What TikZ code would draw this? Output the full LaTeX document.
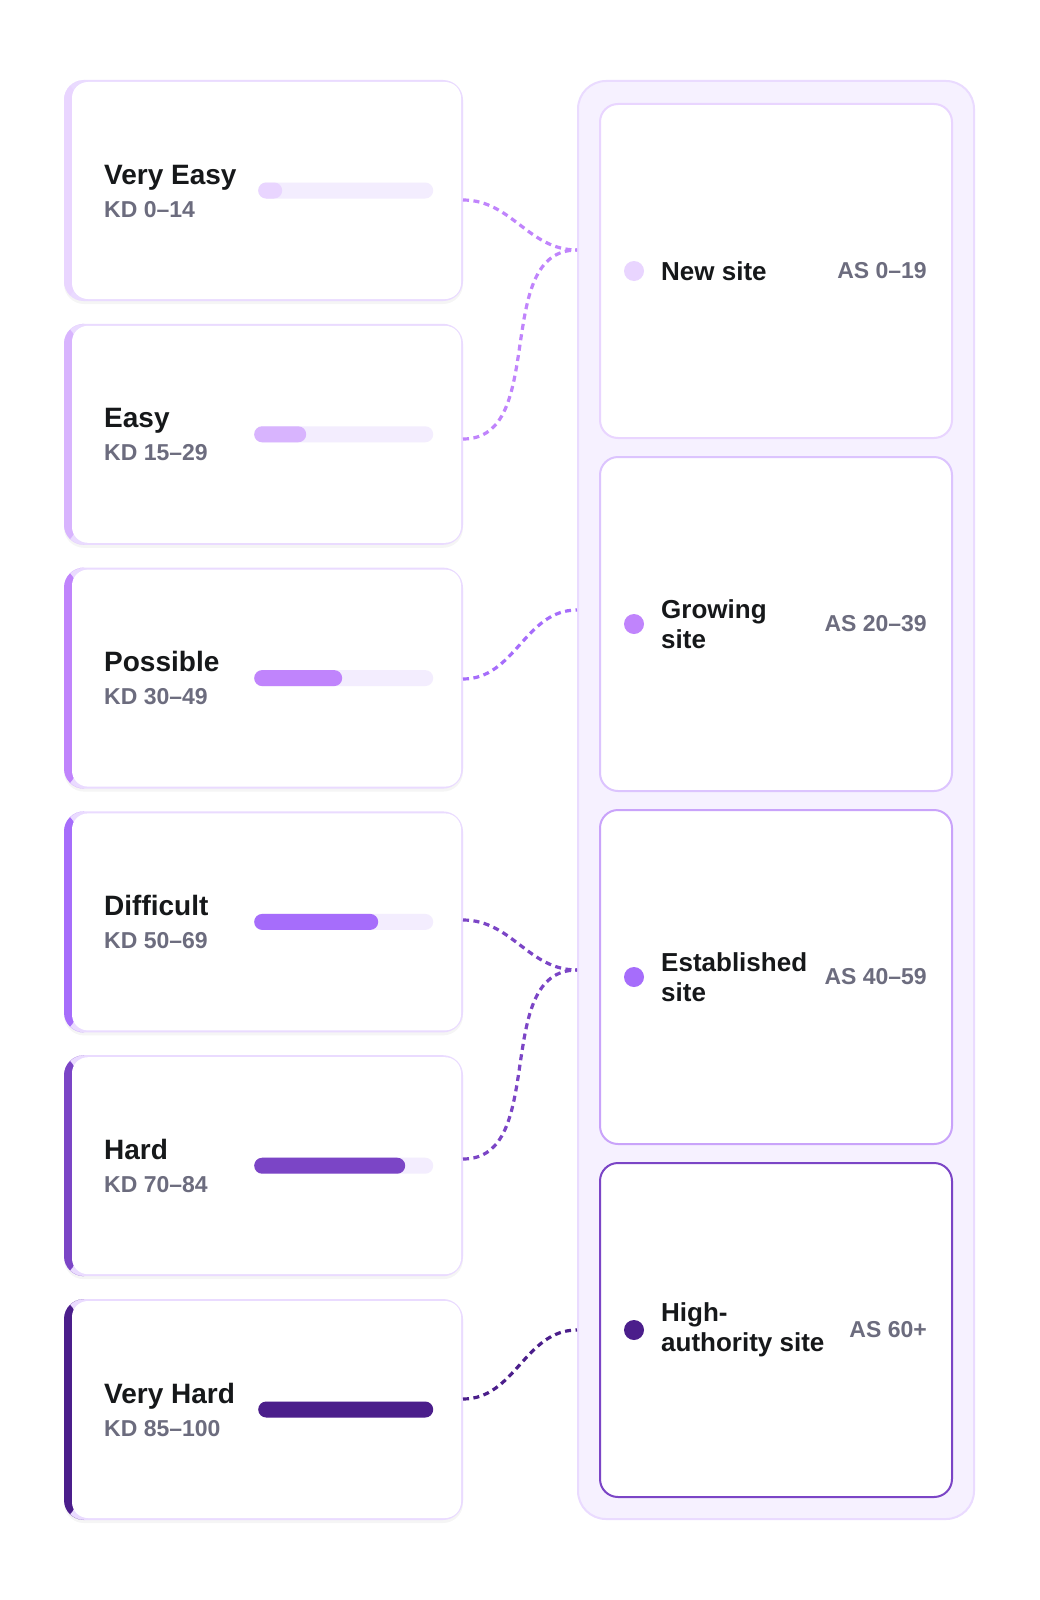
\documentclass[tikz,border=0pt]{standalone}
\usepackage{fontspec}
\setmainfont{Liberation Sans}
\usetikzlibrary{positioning,calc}
\definecolor{inkdark}{HTML}{16181A}
\definecolor{inkgrey}{HTML}{6C6C7E}
\definecolor{cardline}{HTML}{EADBFF}
\definecolor{trackbg}{HTML}{F3EDFE}
\definecolor{panelbg}{HTML}{F6F1FF}
\definecolor{lvA}{HTML}{E9D5FF}
\definecolor{lvB}{HTML}{D8B4FE}
\definecolor{lvC}{HTML}{C084FC}
\definecolor{lvD}{HTML}{A66DFB}
\definecolor{lvE}{HTML}{7B45C6}
\definecolor{lvF}{HTML}{4B1E8B}
\definecolor{siteB}{HTML}{DCC4FE}
\definecolor{siteC}{HTML}{C9A3FA}

\begin{document}
\begin{tikzpicture}[x=1pt, y=-1pt,
    kdcard/.style={rectangle, rounded corners=20pt, minimum width=399pt,
      minimum height=221pt, inner sep=0pt, outer sep=0pt, fill=cardline,
      preaction={fill=black, fill opacity=0.04, transform canvas={yshift=-3pt}},
      path picture={
        \fill[#1] (path picture bounding box.north west) rectangle ([xshift=12pt]path picture bounding box.south west);
        \fill[white, rounded corners=16pt] ([xshift=8pt,yshift=-2pt]path picture bounding box.north west)
          rectangle ([xshift=-2pt,yshift=2pt]path picture bounding box.south east);}},
    kdtitle/.style={anchor=base west, inner sep=0pt, text=inkdark,
      font=\fontsize{28}{32}\selectfont\bfseries},
    kdrange/.style={anchor=base west, inner sep=0pt, text=inkgrey,
      font=\fontsize{23}{27}\selectfont\bfseries},
    track/.style={anchor=west, rectangle, rounded corners=8pt, minimum width=#1,
      minimum height=16pt, inner sep=0pt, fill=trackbg},
    barfill/.style={anchor=west, rectangle, rounded corners=8pt,
      minimum height=16pt, inner sep=0pt, fill=#1},
    panel/.style={rectangle, rounded corners=28pt, minimum width=396pt,
      minimum height=1438pt, fill=panelbg, draw=cardline, line width=2pt},
    sitecard/.style={rectangle, rounded corners=18pt, minimum width=352pt,
      minimum height=334pt, inner sep=0pt, outer sep=0pt, fill=white,
      draw=#1, line width=2pt},
    sitedot/.style={circle, minimum size=20pt, inner sep=0pt, fill=#1},
    sitename/.style={anchor=west, align=left, inner sep=0pt, text=inkdark,
      font=\fontsize{26}{30}\selectfont\bfseries},
    siterange/.style={anchor=east, inner sep=0pt, text=inkgrey,
      font=\fontsize{23}{27}\selectfont\bfseries},
    link/.style={draw=#1, line width=3.2pt, dash pattern=on 6pt off 4.5pt}]

  \fill[white] (0,0) rectangle (1040,1600);
  \useasboundingbox (0,0) rectangle (1040,1600);

  % keyword difficulty cards
  \node[kdcard=lvA] (veasy) at (263.5,190.5) {};
  \node[kdcard=lvB, below=22.8pt of veasy] (easy) {};
  \node[kdcard=lvC, below=22.8pt of easy] (possible) {};
  \node[kdcard=lvD, below=22.8pt of possible] (difficult) {};
  \node[kdcard=lvE, below=22.8pt of difficult] (hard) {};
  \node[kdcard=lvF, below=22.8pt of hard] (vhard) {};

  \node[kdtitle] (veasyT) at ([xshift=40pt,yshift=6.5pt]veasy.west) {Very Easy};
  \node[kdrange] (veasyR) at ([xshift=40pt,yshift=-26.5pt]veasy.west) {KD 0--14};
  \node[kdtitle] (easyT) at ([xshift=40pt,yshift=6.5pt]easy.west) {Easy};
  \node[kdrange] (easyR) at ([xshift=40pt,yshift=-26.5pt]easy.west) {KD 15--29};
  \node[kdtitle] (possibleT) at ([xshift=40pt,yshift=6.5pt]possible.west) {Possible};
  \node[kdrange] (possibleR) at ([xshift=40pt,yshift=-26.5pt]possible.west) {KD 30--49};
  \node[kdtitle] (difficultT) at ([xshift=40pt,yshift=6.5pt]difficult.west) {Difficult};
  \node[kdrange] (difficultR) at ([xshift=40pt,yshift=-26.5pt]difficult.west) {KD 50--69};
  \node[kdtitle] (hardT) at ([xshift=40pt,yshift=6.5pt]hard.west) {Hard};
  \node[kdrange] (hardR) at ([xshift=40pt,yshift=-26.5pt]hard.west) {KD 70--84};
  \node[kdtitle] (vhardT) at ([xshift=40pt,yshift=6.5pt]vhard.west) {Very Hard};
  \node[kdrange] (vhardR) at ([xshift=40pt,yshift=-26.5pt]vhard.west) {KD 85--100};

  % difficulty bars
  \node[track=175pt] (veasyB) at ([xshift=194pt]veasy.west) {};
  \node[barfill=lvA, minimum width=24pt] at (veasyB.west) {};
  \node[track=179pt] (easyB) at ([xshift=190pt]easy.west) {};
  \node[barfill=lvB, minimum width=52pt] at (easyB.west) {};
  \node[track=179pt] (possibleB) at ([xshift=190pt]possible.west) {};
  \node[barfill=lvC, minimum width=88pt] at (possibleB.west) {};
  \node[track=179pt] (difficultB) at ([xshift=190pt]difficult.west) {};
  \node[barfill=lvD, minimum width=124pt] at (difficultB.west) {};
  \node[track=179pt] (hardB) at ([xshift=190pt]hard.west) {};
  \node[barfill=lvE, minimum width=151pt] at (hardB.west) {};
  \node[track=175pt] (vhardB) at ([xshift=194pt]vhard.west) {};
  \node[barfill=lvF, minimum width=175pt] at (vhardB.west) {};

  % authority panel
  \node[panel] (panel) at (776,800) {};
  \node[sitecard=lvA] (newsite) at (776,271) {};
  \node[sitecard=siteB, below=19pt of newsite] (growing) {};
  \node[sitecard=siteC, below=19pt of growing] (established) {};
  \node[sitecard=lvE, below=19pt of established] (highauth) {};

  \node[sitedot=lvA] (newsiteD) at ([xshift=34pt]newsite.west) {};
  \node[sitename] (newsiteN) at ([xshift=61pt]newsite.west) {New site};
  \node[siterange] (newsiteR) at ([xshift=-25pt]newsite.east) {AS 0--19};
  \node[sitedot=lvC] (growingD) at ([xshift=34pt]growing.west) {};
  \node[sitename] (growingN) at ([xshift=61pt]growing.west) {Growing\\site};
  \node[siterange] (growingR) at ([xshift=-25pt]growing.east) {AS 20--39};
  \node[sitedot=lvD] (establishedD) at ([xshift=34pt]established.west) {};
  \node[sitename] (establishedN) at ([xshift=61pt]established.west) {Established\\site};
  \node[siterange] (establishedR) at ([xshift=-25pt]established.east) {AS 40--59};
  \node[sitedot=lvF] (highauthD) at ([xshift=34pt]highauth.west) {};
  \node[sitename] (highauthN) at ([xshift=61pt]highauth.west) {High-\\authority site};
  \node[siterange] (highauthR) at ([xshift=-25pt]highauth.east) {AS 60+};

  % links
  \coordinate (veasyOut) at (463,200);
  \coordinate (easyOut) at (463,439);
  \coordinate (possibleOut) at (463,679);
  \coordinate (difficultOut) at (463,920);
  \coordinate (hardOut) at (463,1159);
  \coordinate (vhardOut) at (463,1399);
  \coordinate (newIn) at (577,250);
  \coordinate (growIn) at (577,610);
  \coordinate (estIn) at (577,970);
  \coordinate (highIn) at (577,1330);

  \draw[link=lvC] (veasyOut) to[out=0,in=180] (newIn);
  \draw[link=lvC] (easyOut) to[out=0,in=180] (newIn);
  \draw[link=lvD] (possibleOut) to[out=0,in=180] (growIn);
  \draw[link=lvE] (difficultOut) to[out=0,in=180] (estIn);
  \draw[link=lvE] (hardOut) to[out=0,in=180] (estIn);
  \draw[link=lvF] (vhardOut) to[out=0,in=180] (highIn);
\end{tikzpicture}
\end{document}
